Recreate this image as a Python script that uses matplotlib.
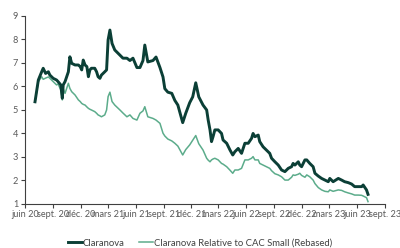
"""Claranova share price vs relative-to-CAC-Small line (rebased)."""
import numpy as np
import pandas as pd
import matplotlib
matplotlib.use("Agg")
import matplotlib.pyplot as plt
import matplotlib.dates as mdates

plt.rcParams["font.family"] = ["Lato", "DejaVu Sans"]

dates = pd.to_datetime([
    "2020-07-04", "2020-07-15", "2020-07-26", "2020-07-31", "2020-08-08", "2020-08-17",
    "2020-08-22", "2020-09-02", "2020-09-13", "2020-09-18", "2020-09-27", "2020-10-02",
    "2020-10-05", "2020-10-11", "2020-10-22", "2020-10-27", "2020-11-02", "2020-11-13",
    "2020-11-24", "2020-11-30", "2020-12-05", "2020-12-10", "2020-12-16", "2020-12-22",
    "2020-12-27", "2021-01-01", "2021-01-06", "2021-01-17", "2021-01-23", "2021-01-28",
    "2021-02-03", "2021-02-08", "2021-02-19", "2021-02-25", "2021-03-02", "2021-03-08",
    "2021-03-15", "2021-03-24", "2021-04-10", "2021-04-20", "2021-05-03", "2021-05-13",
    "2021-05-23", "2021-06-05", "2021-06-15", "2021-06-25", "2021-07-01", "2021-07-11",
    "2021-07-28", "2021-08-07", "2021-08-20", "2021-08-30", "2021-09-05", "2021-09-15",
    "2021-09-28", "2021-10-08", "2021-10-18", "2021-11-03", "2021-11-13", "2021-11-26",
    "2021-12-06", "2021-12-16", "2021-12-26", "2022-01-09", "2022-01-21", "2022-01-26",
    "2022-02-01", "2022-02-06", "2022-02-11", "2022-02-17", "2022-02-28", "2022-03-11",
    "2022-03-16", "2022-03-28", "2022-04-08", "2022-04-17", "2022-04-24", "2022-05-05",
    "2022-05-16", "2022-05-27", "2022-06-07", "2022-06-18", "2022-06-23", "2022-06-29",
    "2022-07-10", "2022-07-15", "2022-07-26", "2022-08-06", "2022-08-17", "2022-08-23",
    "2022-09-03", "2022-09-14", "2022-09-25", "2022-10-06", "2022-10-17", "2022-10-28",
    "2022-11-02", "2022-11-08", "2022-11-19", "2022-11-24", "2022-11-30", "2022-12-11",
    "2022-12-17", "2022-12-27", "2023-01-07", "2023-01-13", "2023-01-24", "2023-02-04",
    "2023-02-15", "2023-02-26", "2023-03-03", "2023-03-14", "2023-03-31", "2023-04-11",
    "2023-04-21", "2023-05-03", "2023-05-14", "2023-05-24", "2023-06-05", "2023-06-16",
    "2023-06-21", "2023-07-02", "2023-07-07",
])

claranova = [
    5.34, 6.27, 6.62, 6.77, 6.55, 6.62, 6.48, 6.34, 6.27, 6.20, 6.06, 5.49,
    6.06, 6.20, 6.62, 7.26, 6.98, 6.91, 6.91, 6.84, 6.70, 7.12, 6.91, 6.84,
    6.41, 6.70, 6.77, 6.77, 6.62, 6.41, 6.34, 6.48, 6.62, 6.70, 7.98, 8.40,
    7.83, 7.55, 7.33, 7.20, 7.20, 7.10, 7.20, 6.80, 6.80, 7.10, 7.76, 7.04,
    7.10, 7.25, 6.80, 6.40, 5.90, 5.75, 5.70, 5.40, 5.20, 4.45, 4.85, 5.30,
    5.55, 6.15, 5.55, 5.20, 4.99, 4.56, 4.14, 3.64, 3.85, 4.14, 4.14, 3.99,
    3.71, 3.57, 3.28, 3.07, 3.21, 3.35, 3.14, 3.57, 3.57, 3.78, 3.99, 3.85,
    3.92, 3.64, 3.42, 3.28, 3.14, 2.93, 2.78, 2.64, 2.43, 2.36, 2.50, 2.57,
    2.71, 2.64, 2.78, 2.64, 2.57, 2.86, 2.86, 2.71, 2.57, 2.29, 2.17, 2.07,
    2.00, 1.93, 2.07, 1.93, 2.07, 2.00, 1.93, 1.89, 1.83, 1.72, 1.72, 1.72,
    1.79, 1.58, 1.39,
]

relative_cac_small = [
    5.34, 6.20, 6.41, 6.30, 6.35, 6.40, 6.34, 6.20, 6.06, 6.10, 5.85, 5.42,
    5.90, 5.70, 6.13, 5.91, 5.77, 5.63, 5.42, 5.35, 5.27, 5.23, 5.20, 5.12,
    5.06, 5.02, 4.99, 4.92, 4.85, 4.78, 4.74, 4.70, 4.78, 4.99, 5.56, 5.75,
    5.35, 5.20, 4.99, 4.86, 4.70, 4.78, 4.63, 4.56, 4.85, 4.95, 5.13, 4.70,
    4.63, 4.56, 4.42, 4.00, 3.88, 3.75, 3.67, 3.57, 3.45, 3.07, 3.30, 3.50,
    3.70, 3.90, 3.55, 3.28, 2.93, 2.85, 2.78, 2.86, 2.90, 2.93, 2.86, 2.71,
    2.68, 2.57, 2.42, 2.29, 2.43, 2.43, 2.50, 2.86, 2.86, 2.93, 3.00, 2.86,
    2.86, 2.71, 2.64, 2.57, 2.50, 2.40, 2.27, 2.22, 2.14, 2.00, 2.00, 2.12,
    2.22, 2.20, 2.25, 2.29, 2.20, 2.12, 2.22, 2.14, 2.00, 1.85, 1.68, 1.58,
    1.52, 1.50, 1.58, 1.52, 1.58, 1.56, 1.50, 1.45, 1.41, 1.36, 1.36, 1.35,
    1.32, 1.25, 1.08,
]

month_fr = {3: "mars", 6: "juin", 9: "sept.", 12: "déc."}

DARK = "#0b3f36"
LIGHT = "#5cac8b"
AXIS = "#404040"
TEXT = "#595959"

fig = plt.figure(figsize=(4.0, 2.48), dpi=100)
ax = fig.add_axes([0.0625, 0.1794, 0.9, 0.7561])

ax.plot(dates, relative_cac_small, color=LIGHT, linewidth=1.1,
        label="Claranova Relative to CAC Small (Rebased)", zorder=2)
ax.plot(dates, claranova, color=DARK, linewidth=2.1, label="Claranova", zorder=3)

ax.set_xlim(pd.Timestamp("2020-06-01"), pd.Timestamp("2023-09-01"))
ax.set_ylim(1, 9)
ax.set_yticks(range(1, 10))

ax.xaxis.set_major_locator(mdates.MonthLocator(bymonth=[3, 6, 9, 12], bymonthday=1))
ax.xaxis.set_major_formatter(
    plt.FuncFormatter(lambda v, pos: "%s %s" % (month_fr[mdates.num2date(v).month],
                                               mdates.num2date(v).strftime("%y"))))

for side in ("top", "right"):
    ax.spines[side].set_visible(False)
for side in ("left", "bottom"):
    ax.spines[side].set_color(AXIS)
    ax.spines[side].set_linewidth(0.8)
ax.tick_params(axis="both", colors=AXIS, labelcolor=TEXT, labelsize=6.6,
               length=3, width=0.8, pad=2)

handles, labels = ax.get_legend_handles_labels()
fig.legend(handles[::-1], labels[::-1], loc="center", bbox_to_anchor=(0.5, 0.02),
           ncol=2, frameon=False, fontsize=6.8, labelcolor="#404040",
           handlelength=1.4, handletextpad=0.1, columnspacing=1.6)

fig.savefig("out.png", dpi=100)
